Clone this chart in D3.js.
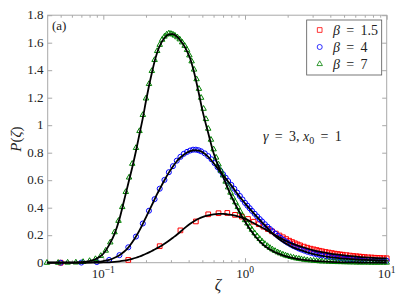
<!DOCTYPE html>
<html>
  <head>
    <meta charset="utf-8" />
    <title>P(zeta)</title>
    <script src="https://d3js.org/d3.v7.min.js"></script>
    <style>
        body { margin:0; background:#fff; }
    </style>
  </head>
  <body>
    <svg id="viz"></svg>
    <script>

        // theory curves (black lines)
        var lineZeta = [0.04,0.05,0.06,0.07,0.08,0.09,0.1,0.11,0.12,0.13,0.14,0.15,0.16,0.17,0.18,0.19,0.2,0.21,0.22,0.23,0.24,0.25,
            0.27,0.29,0.31,0.33,0.35,0.38,0.41,0.44,0.47,0.5,0.55,0.6,0.65,0.7,0.75,0.8,0.9,1.0,
            1.1,1.2,1.35,1.5,1.7,1.9,2.2,2.5,3.0,3.5,4.0,5.0,6.0,7.0,8.5,10];
        var lineRed = [0,0,0,0,0.0005,0.001,0.002,0.003,0.006,0.01,0.015,0.021,0.028,0.036,0.045,0.055,0.065,0.075,0.085,0.096,0.106,0.116,
            0.138,0.16,0.182,0.203,0.225,0.257,0.283,0.304,0.32,0.332,0.345,0.352,0.355,0.355,0.352,0.347,0.335,0.32,
            0.298,0.278,0.25,0.222,0.19,0.163,0.135,0.116,0.092,0.077,0.066,0.053,0.045,0.039,0.034,0.031];
        var lineBlue = [0,0,0,0.001,0.002,0.006,0.012,0.021,0.036,0.055,0.08,0.11,0.148,0.19,0.235,0.283,0.33,0.375,0.418,0.46,0.5,0.535,
            0.6,0.655,0.7,0.738,0.765,0.795,0.812,0.818,0.815,0.804,0.77,0.725,0.678,0.635,0.598,0.562,0.49,0.432,
            0.382,0.338,0.282,0.232,0.18,0.145,0.11,0.09,0.064,0.05,0.04,0.029,0.024,0.02,0.016,0.014];
        var lineGreen = [0,0,0.001,0.004,0.012,0.03,0.065,0.13,0.21,0.318,0.45,0.576,0.692,0.812,0.936,1.052,1.176,1.285,1.38,1.463,1.529,1.576,
            1.634,1.66,1.663,1.645,1.616,1.561,1.485,1.372,1.241,1.11,0.943,0.798,0.7,0.625,0.55,0.485,0.38,0.3,
            0.234,0.183,0.129,0.096,0.068,0.05,0.034,0.023,0.014,0.009,0.006,0.003,0.002,0.001,0.001,0.0005];

        // simulation points (markers)
        var tailZeta = [1.0,1.04,1.08,1.12,1.17,1.22,1.27,1.32,1.38,1.44,1.5,1.56,1.63,1.7,1.77,1.85,1.93,2.0,
            2.1,2.2,2.3,2.4,2.5,2.62,2.75,2.9,3.05,3.2,3.35,3.5,3.7,3.9,4.1,4.3,
            4.5,4.75,5.0,5.25,5.5,5.8,6.1,6.4,6.7,7.0,7.4,7.8,8.2,8.6,9.0,9.5,10.0];

        var redZeta = [0.05,0.15,0.25,0.35,0.45,0.55,0.65,0.75,0.85,0.95,1.05,1.15,1.25,1.35,1.45,1.55,1.65,1.75,1.85,1.95,
            2.05,2.15,2.25,2.35,2.45,2.6,2.75,2.9,3.05,3.2,3.35,3.5,3.7,3.9,4.1,4.3,4.5,4.7,4.9,
            5.2,5.5,5.8,6.1,6.4,6.7,7.0,7.4,7.8,8.2,8.6,9.0,9.5,10.0];
        var redP = [0,0.02,0.12,0.235,0.3,0.352,0.36,0.362,0.348,0.335,0.318,0.298,0.28,0.262,0.245,0.228,0.212,0.198,0.185,0.172,
            0.16,0.15,0.141,0.133,0.126,0.117,0.109,0.102,0.097,0.092,0.087,0.083,0.078,0.074,0.07,0.066,0.063,0.06,0.058,
            0.055,0.052,0.049,0.047,0.045,0.043,0.041,0.039,0.038,0.036,0.035,0.034,0.033,0.032];

        var blueHeadZeta = [0.05,0.07,0.09,0.11,0.13,0.15,0.17,0.19,0.21,0.23,0.25,0.27,0.29,0.31,0.33,0.35,0.37,0.39,0.41,0.43,0.45,0.47,0.49,
            0.52,0.55,0.58,0.61,0.64,0.67,0.7,0.73,0.76,0.8,0.84,0.88,0.92,0.96];
        var blueHeadP = [0,0.001,0.005,0.02,0.055,0.112,0.19,0.285,0.378,0.462,0.538,0.602,0.658,0.702,0.742,0.77,0.792,0.806,0.816,0.822,0.822,0.818,0.81,
            0.795,0.775,0.752,0.724,0.695,0.668,0.643,0.618,0.594,0.566,0.538,0.51,0.485,0.46];
        var blueTailP = [0.435,0.415,0.396,0.377,0.356,0.336,0.317,0.3,0.28,0.262,0.245,0.229,0.212,0.197,0.183,0.168,0.155,0.145,
            0.132,0.121,0.112,0.103,0.096,0.088,0.08,0.073,0.067,0.061,0.057,0.053,0.048,0.044,0.041,0.038,
            0.035,0.033,0.03,0.028,0.027,0.025,0.023,0.022,0.021,0.02,0.019,0.018,0.017,0.016,0.015,0.015,0.014];

        var greenHeadZeta = [0.04,0.048,0.056,0.064,0.072,0.08,0.088,0.096,0.104,0.112,0.12,0.128,0.136,0.144,0.152,0.16,
            0.17,0.18,0.19,0.2,0.21,0.22,0.23,0.24,0.25,0.26,0.27,0.28,0.29,0.3,0.31,0.32,
            0.333,0.346,0.36,0.375,0.39,0.405,0.42,0.437,0.455,0.473,0.49,
            0.51,0.53,0.55,0.575,0.6,0.625,0.65,0.675,0.7,0.73,0.76,0.79,0.82,0.855,0.89,0.925,0.96];
        var greenHeadP = [0,0,0.001,0.002,0.006,0.013,0.027,0.05,0.088,0.148,0.222,0.305,0.405,0.515,0.62,0.72,
            0.835,0.958,1.075,1.195,1.3,1.395,1.475,1.54,1.585,1.622,1.645,1.66,1.668,1.665,1.66,1.652,
            1.64,1.625,1.603,1.578,1.548,1.508,1.465,1.405,1.335,1.265,1.2,
            1.12,1.045,0.975,0.895,0.825,0.765,0.715,0.67,0.635,0.59,0.548,0.51,0.475,0.44,0.405,0.372,0.342];
        var greenTailP = [0.31,0.286,0.262,0.24,0.215,0.193,0.173,0.155,0.137,0.122,0.108,0.097,0.086,0.076,0.068,0.06,0.053,0.048,
            0.042,0.037,0.032,0.029,0.026,0.022,0.019,0.017,0.015,0.013,0.011,0.01,0.009,0.008,0.007,0.006,
            0.005,0.005,0.004,0.004,0.003,0.003,0.002,0.002,0.002,0.002,0.001,0.001,0.001,0.001,0.001,0.001,0.001];

        var betaLabels = ["1.5", "4", "7"];
        var yTicks = [0, 0.2, 0.4, 0.6, 0.8, 1, 1.2, 1.4, 1.6, 1.8];
        var yTickLabels = ["0", "0.2", "0.4", "0.6", "0.8", "1", "1.2", "1.4", "1.6", "1.8"];
        var xMajor = [0.1, 1, 10];
        var xMajorExp = ["\u22121", "0", "1"];
        var xMinor = [0.05,0.06,0.07,0.08,0.09,0.2,0.3,0.4,0.5,0.6,0.7,0.8,0.9,2,3,4,5,6,7,8,9];

        var width = 399, height = 299;
        var frameColor = "#a8a8a8";
        var textColor = "#222";
        var serif = "Liberation Serif";
        var eq = " \u2009=\u2009 ";

        var svg = d3.select("#viz")
            .attr("width", width)
            .attr("height", height);

        var x = d3.scaleLog().domain([0.0405, 10]).range([47.7, 386.7]);
        var y = d3.scaleLinear().domain([0, 1.8]).range([262.7, 15.2]);

        function zip(zs, ps) {
            return zs.map(function (z, i) { return [z, ps[i]]; });
        }

        var series = [
            { color: "red", symbol: d3.symbolSquare, size: 22,
              line: zip(lineZeta, lineRed), pts: zip(redZeta, redP) },
            { color: "blue", symbol: d3.symbolCircle, size: 20,
              line: zip(lineZeta, lineBlue), pts: zip(blueHeadZeta.concat(tailZeta), blueHeadP.concat(blueTailP)) },
            { color: "green", symbol: d3.symbolTriangle, size: 13,
              line: zip(lineZeta, lineGreen), pts: zip(greenHeadZeta.concat(tailZeta), greenHeadP.concat(greenTailP)) }
        ];

        function label(sel, size) {
            return sel.attr("font-family", serif)
                .attr("font-size", size)
                .attr("fill", textColor);
        }

        // frame
        svg.append("rect")
            .attr("x", x.range()[0]).attr("y", y.range()[1])
            .attr("width", x.range()[1] - x.range()[0])
            .attr("height", y.range()[0] - y.range()[1])
            .attr("fill", "none")
            .attr("stroke", frameColor)
            .attr("stroke-width", 1);

        // ticks, all pointing in
        function tickStyle(g) {
            g.select(".domain").remove();
            g.selectAll("line").attr("stroke", frameColor);
            g.selectAll("text").remove();
        }
        svg.append("g").attr("transform", "translate(0," + y.range()[0] + ")")
            .call(d3.axisBottom(x).tickValues(xMajor).tickSize(-4.5)).call(tickStyle);
        svg.append("g").attr("transform", "translate(0," + y.range()[0] + ")")
            .call(d3.axisBottom(x).tickValues(xMinor).tickSize(-2.5)).call(tickStyle);
        svg.append("g").attr("transform", "translate(0," + y.range()[1] + ")")
            .call(d3.axisTop(x).tickValues(xMajor).tickSize(-4.5)).call(tickStyle);
        svg.append("g").attr("transform", "translate(0," + y.range()[1] + ")")
            .call(d3.axisTop(x).tickValues(xMinor).tickSize(-2.5)).call(tickStyle);
        svg.append("g").attr("transform", "translate(" + x.range()[0] + ",0)")
            .call(d3.axisLeft(y).tickValues(yTicks).tickSize(-4.5)).call(tickStyle);
        svg.append("g").attr("transform", "translate(" + x.range()[1] + ",0)")
            .call(d3.axisRight(y).tickValues(yTicks).tickSize(-4.5)).call(tickStyle);

        // tick labels
        svg.append("g").selectAll("text").data(yTicks).enter().append("text")
            .call(label, 13)
            .attr("x", 43.5)
            .attr("y", function (d) { return y(d); })
            .attr("dy", "0.33em")
            .attr("text-anchor", "end")
            .text(function (d, i) { return yTickLabels[i]; });

        var xl = svg.append("g").selectAll("text").data(xMajor).enter().append("text")
            .call(label, 13)
            .attr("x", function (d) { return x(d); })
            .attr("y", 278.3)
            .attr("text-anchor", "middle");
        xl.append("tspan").text("10");
        xl.append("tspan").attr("dy", -5.5).attr("font-size", 9.5)
            .text(function (d, i) { return xMajorExp[i]; });

        // markers
        series.forEach(function (s) {
            svg.append("g").selectAll("path").data(s.pts).enter().append("path")
                .attr("d", d3.symbol().type(s.symbol).size(s.size))
                .attr("transform", function (d) { return "translate(" + x(d[0]) + "," + y(d[1]) + ")"; })
                .attr("fill", "none")
                .attr("stroke", s.color)
                .attr("stroke-width", 1);
        });

        // theory lines
        var line = d3.line()
            .x(function (d) { return x(d[0]); })
            .y(function (d) { return y(d[1]); })
            .curve(d3.curveMonotoneX);
        series.forEach(function (s) {
            svg.append("path").datum(s.line)
                .attr("d", line)
                .attr("fill", "none")
                .attr("stroke", "black")
                .attr("stroke-width", 1.8);
        });

        // axis labels
        var yl = svg.append("text")
            .call(label, 15)
            .attr("transform", "translate(21,139) rotate(-90)")
            .attr("text-anchor", "middle");
        yl.append("tspan").attr("font-style", "italic").text("P");
        yl.append("tspan").text("(");
        yl.append("tspan").attr("font-style", "italic").text("\u03b6");
        yl.append("tspan").text(")");

        svg.append("text")
            .call(label, 16)
            .attr("x", 218).attr("y", 290)
            .attr("text-anchor", "middle")
            .attr("font-style", "italic")
            .text("\u03b6");

        svg.append("text")
            .call(label, 13)
            .attr("x", 52).attr("y", 30)
            .text("(a)");

        // parameter note
        var note = svg.append("text")
            .call(label, 14)
            .attr("x", 263).attr("y", 141);
        note.append("tspan").attr("font-style", "italic").text("\u03b3");
        note.append("tspan").text(eq + "3, ");
        note.append("tspan").attr("font-style", "italic").text("x");
        note.append("tspan").attr("dy", 3).attr("font-size", 10).text("0");
        note.append("tspan").attr("dy", -3).text(eq + "1");

        // legend
        var legend = svg.append("g");
        legend.append("rect")
            .attr("x", 306.7).attr("y", 20)
            .attr("width", 75).attr("height", 55)
            .attr("fill", "white")
            .attr("stroke", "#555")
            .attr("stroke-width", 0.8);
        series.forEach(function (s, i) {
            var ly = 30 + i * 17;
            legend.append("path")
                .attr("d", d3.symbol().type(s.symbol).size(s.size))
                .attr("transform", "translate(319.7," + ly + ")")
                .attr("fill", "none")
                .attr("stroke", s.color)
                .attr("stroke-width", 0.8);
            var t = legend.append("text")
                .call(label, 14)
                .attr("x", 333).attr("y", ly + 4.5);
            t.append("tspan").attr("font-style", "italic").text("\u03b2");
            t.append("tspan").text(eq + betaLabels[i]);
        });

    </script>
  </body>
</html>
